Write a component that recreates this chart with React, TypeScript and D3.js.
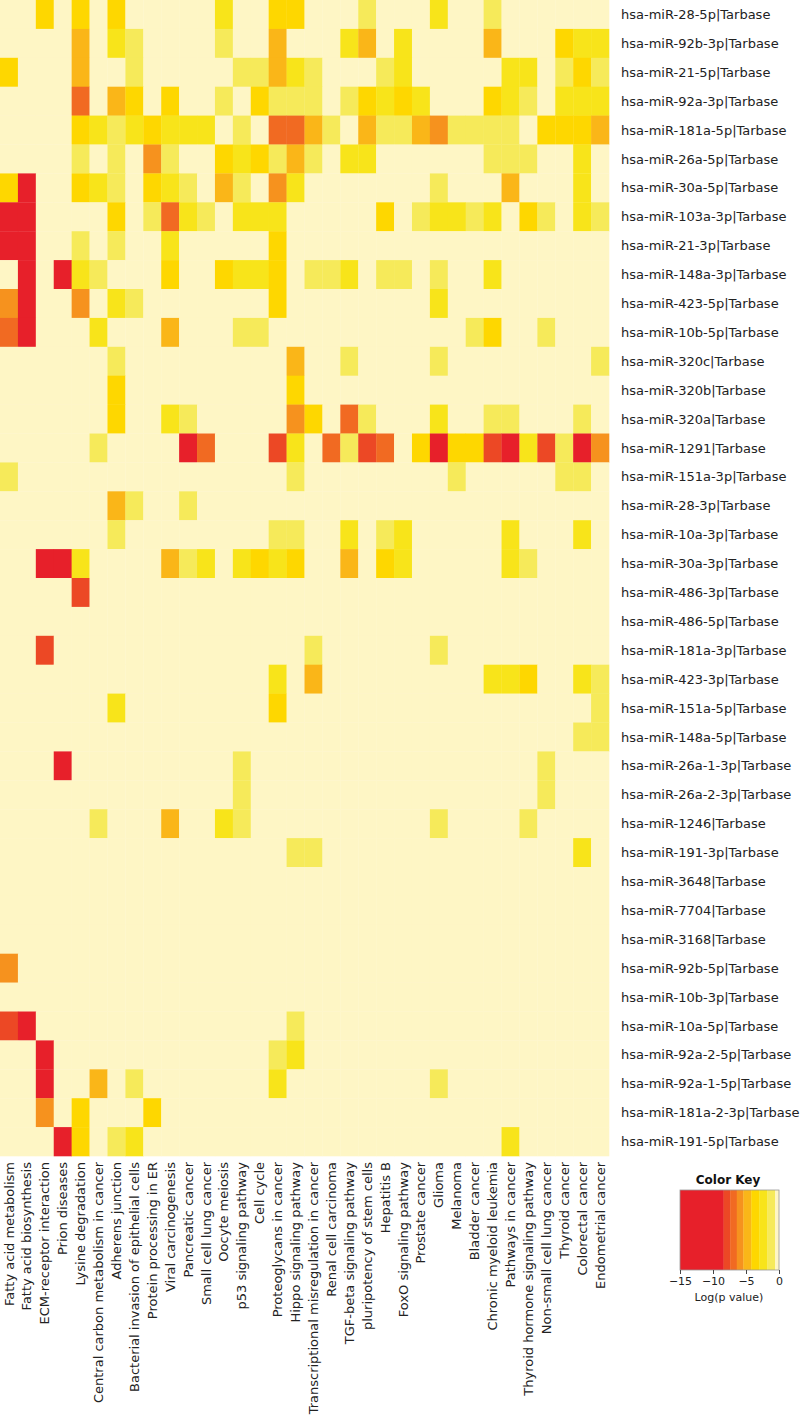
import React, { useEffect, useRef } from "react";
import * as d3 from "d3";

// pathways (x) and miRNAs (y)
const pathways = [
  "Fatty acid metabolism", "Fatty acid biosynthesis", "ECM-receptor interaction", "Prion diseases",
  "Lysine degradation", "Central carbon metabolism in cancer", "Adherens junction",
  "Bacterial invasion of epithelial cells", "Protein processing in ER", "Viral carcinogenesis",
  "Pancreatic cancer", "Small cell lung cancer", "Oocyte meiosis", "p53 signaling pathway",
  "Cell cycle", "Proteoglycans in cancer", "Hippo signaling pathway",
  "Transcriptional misregulation in cancer", "Renal cell carcinoma", "TGF-beta signaling pathway",
  "pluripotency of stem cells", "Hepatitis B", "FoxO signaling pathway", "Prostate cancer",
  "Glioma", "Melanoma", "Bladder cancer", "Chronic myeloid leukemia", "Pathways in cancer",
  "Thyroid hormone signaling pathway", "Non-small cell lung cancer", "Thyroid cancer",
  "Colorectal cancer", "Endometrial cancer",
];

const mirnas = [
  "hsa-miR-28-5p", "hsa-miR-92b-3p", "hsa-miR-21-5p", "hsa-miR-92a-3p", "hsa-miR-181a-5p",
  "hsa-miR-26a-5p", "hsa-miR-30a-5p", "hsa-miR-103a-3p", "hsa-miR-21-3p", "hsa-miR-148a-3p",
  "hsa-miR-423-5p", "hsa-miR-10b-5p", "hsa-miR-320c", "hsa-miR-320b", "hsa-miR-320a",
  "hsa-miR-1291", "hsa-miR-151a-3p", "hsa-miR-28-3p", "hsa-miR-10a-3p", "hsa-miR-30a-3p",
  "hsa-miR-486-3p", "hsa-miR-486-5p", "hsa-miR-181a-3p", "hsa-miR-423-3p", "hsa-miR-151a-5p",
  "hsa-miR-148a-5p", "hsa-miR-26a-1-3p", "hsa-miR-26a-2-3p", "hsa-miR-1246", "hsa-miR-191-3p",
  "hsa-miR-3648", "hsa-miR-7704", "hsa-miR-3168", "hsa-miR-92b-5p", "hsa-miR-10b-3p",
  "hsa-miR-10a-5p", "hsa-miR-92a-2-5p", "hsa-miR-92a-1-5p", "hsa-miR-181a-2-3p", "hsa-miR-191-5p",
];

// estimated log(p value) for each colour step (0 = not significant)
const stepLogP = [-0.3, -1.2, -2.4, -3.6, -4.8, -5.9, -6.9, -7.9, -11];

// one string per miRNA, one digit (colour step) per pathway
const steps = [
  "0030303000002003300010002001000000",
  "0000402100001004000240200004000322",
  "3000400100000114210001200000220131",
  "0000604303001031110132320003210222",
  "0000321232220106641041145111103334",
  "0000101051003231410220000001110020",
  "3800321032104105200000001000400020",
  "8800003016210222000003012212031021",
  "8800101002000003000000000000000000",
  "0808210003003223011201101002000000",
  "5800502100000003000000002000000000",
  "6800020004000110000000000013001000",
  "0000001000000000400100001000000001",
  "0000003000000000300000000000000000",
  "0000003002100000530610002001100010",
  "0000010000860007206176038337827185",
  "1000000000000000100000000100000110",
  "0000004100100000000000000000000000",
  "0000001000000001100201200000200020",
  "0088200004120232300403200000210000",
  "0000700000000000000000000000000000",
  "0000000000000000000000000000000000",
  "0070000000000000010000001000000000",
  "0000000000000002040000000002230021",
  "0000002000000003000000000000000001",
  "0000000000000000000000000000000011",
  "0008000000000100000000000000001000",
  "0000000000000100000000000000001000",
  "0000010004002100000000001000010000",
  "0000000000000000110000000000000020",
  "0000000000000000000000000000000000",
  "0000000000000000000000000000000000",
  "0000000000000000000000000000000000",
  "5000000000000000000000000000000000",
  "0000000000000000000000000000000000",
  "7800000000000000100000000000000000",
  "0080000000000001200000000000000000",
  "0080040100000002000000001000000000",
  "0050300030000000000000000000000000",
  "0008301200000000000000000000200000",
];

const keyBreaks = [-8.4, -7.4, -6.4, -5.4, -4.2, -3.0, -1.8, -0.6];
const keyColors = ["#E7202A", "#EC4825", "#F16A22", "#F6921E", "#FAB618", "#FED700", "#F8E41A", "#F6EA5A", "#FEF6C5"];
const keyTicks = [-15, -10, -5, 0];

const font = "'DejaVu Sans', Verdana, sans-serif";

export default function App() {
  const axisRef = useRef<SVGGElement>(null);

  const W = 800;
  const H = 1425;
  const mapW = 609;
  const mapH = 1156;

  const x = d3.scaleBand<string>().domain(pathways).range([0, mapW]);
  const y = d3.scaleBand<string>().domain(mirnas).range([0, mapH]);
  const color = d3.scaleThreshold<number, string>().domain(keyBreaks).range(keyColors);

  const keyX = d3.scaleLinear().domain([-15, 0]).range([680, 779]);
  const keyTop = 1190;
  const keyBottom = 1270;

  const cells: { r: string; c: string; v: number }[] = [];
  steps.forEach((row, i) => {
    row.split("").forEach((ch, j) => {
      cells.push({ r: mirnas[i], c: pathways[j], v: stepLogP[+ch] });
    });
  });

  // bands for the key
  const edges = [-15, ...keyBreaks, 0];
  const bands = keyColors.map((col, i) => ({ a: edges[i], b: edges[i + 1], col }));

  useEffect(() => {
    if (!axisRef.current) return;
    const g = d3.select(axisRef.current);
    g.selectAll("*").remove();
    g.call(d3.axisBottom(keyX).tickValues(keyTicks).tickSize(4).tickFormat(d3.format("d")));
    g.select(".domain").remove();
    g.selectAll("text").attr("font-size", 11).attr("font-family", font).attr("fill", "#222");
    g.selectAll("line").attr("stroke", "#444");
  }, []);

  return (
    <svg width={W} height={H} style={{ position: "absolute", left: 0, top: 0, background: "#fff" }}>
      <g>
        {cells.map((d, i) => (
          <rect
            key={i}
            x={x(d.c)}
            y={y(d.r)}
            width={x.bandwidth() + 0.3}
            height={y.bandwidth() + 0.3}
            fill={color(d.v)}
          />
        ))}
      </g>
      <g fontFamily={font} fontSize={13} fill="#222">
        {mirnas.map((m) => (
          <text key={m} x={621} y={(y(m) ?? 0) + y.bandwidth() / 2} dy="0.35em">
            {m}|Tarbase
          </text>
        ))}
        {pathways.map((p) => {
          const cx = (x(p) ?? 0) + x.bandwidth() / 2;
          const ty = mapH + 6;
          return (
            <text
              key={p}
              transform={`translate(${cx},${ty}) rotate(-90)`}
              textAnchor="end"
              dy="0.35em"
            >
              {p}
            </text>
          );
        })}
      </g>
      <g>
        <text x={728} y={1184} textAnchor="middle" fontFamily={font} fontWeight="bold" fontSize={12} fill="#111">
          Color Key
        </text>
        {bands.map((b, i) => (
          <rect
            key={i}
            x={keyX(b.a)}
            y={keyTop}
            width={keyX(b.b) - keyX(b.a) + 0.3}
            height={keyBottom - keyTop}
            fill={b.col}
          />
        ))}
        <rect
          x={keyX(-15)}
          y={keyTop}
          width={keyX(0) - keyX(-15)}
          height={keyBottom - keyTop}
          fill="none"
          stroke="#999"
          strokeWidth={0.8}
        />
        <g ref={axisRef} transform={`translate(0,${keyBottom})`} />
        <text x={729} y={1301} textAnchor="middle" fontFamily={font} fontSize={11} fill="#222">
          Log(p value)
        </text>
      </g>
    </svg>
  );
}
